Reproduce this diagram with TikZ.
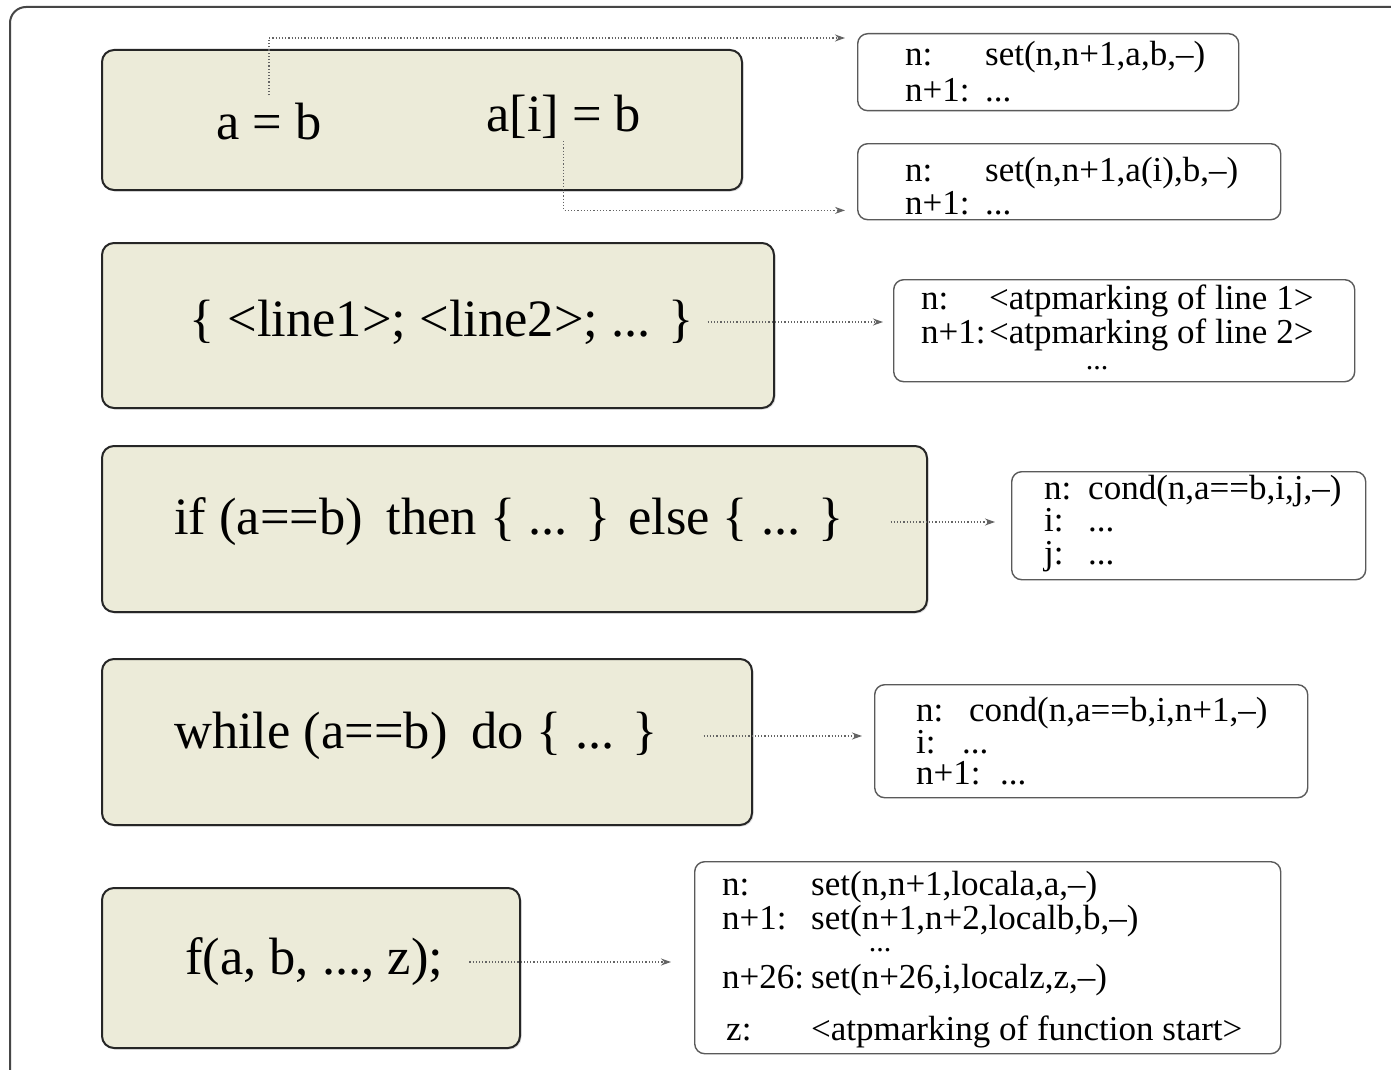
\documentclass[tikz,border=0pt]{standalone}
\usepackage{fontspec}
\setmainfont{Liberation Serif}
\usetikzlibrary{arrows.meta,calc,shadows}
\definecolor{beige}{RGB}{236,235,217}
\definecolor{framecol}{RGB}{70,70,70}
\definecolor{rborder}{RGB}{90,90,90}
\definecolor{dotcol}{RGB}{100,100,100}
\begin{document}
\begin{tikzpicture}[x=1pt,y=-1pt,
  codebox/.style={draw=black!85, line width=2pt, fill=beige, rounded corners=12pt, anchor=north west, inner sep=0pt,
    drop shadow={shadow xshift=1.5pt,shadow yshift=-1.5pt,opacity=0.25}},
  resbox/.style={draw=rborder, line width=1.4pt, fill=white, rounded corners=10pt, anchor=north west, inner sep=0pt},
  codetext/.style={font=\fontsize{52.5}{60}\selectfont, inner sep=0pt, anchor=west},
  restext/.style={font=\fontsize{35}{#1}\selectfont, inner sep=0pt, anchor=west, align=left},
  dotstext/.style={font=\fontsize{30}{30}\selectfont, inner sep=0pt, anchor=center},
  conn/.style={draw=dotcol, line width=1.3pt, dash pattern=on 1.2pt off 2pt, -{Stealth[length=10pt,width=7pt]}}
]
\useasboundingbox (0,0) rectangle (1391,1070);
\fill[white] (0,0) rectangle (1391,1070);
\begin{scope}
  \clip (0,0) rectangle (1391,1070);
  \draw[framecol, line width=2pt, rounded corners=16pt] (10,7) rectangle (1430,1100);
\end{scope}

% code boxes
\node[codebox, minimum width=640pt, minimum height=140pt] (c1) at (101,49) {};
\node[codebox, minimum width=672pt, minimum height=165pt] (c2) at (101,242) {};
\node[codebox, minimum width=825pt, minimum height=166pt] (c3) at (101,445) {};
\node[codebox, minimum width=650pt, minimum height=166pt] (c4) at (101,658) {};
\node[codebox, minimum width=418pt, minimum height=160pt] (c5) at (101,887) {};

% code texts
\node[codetext] (ab) at (216,122) {a = b};
\node[codetext] (aib) at (486,117) {a[i] = b};
\node[codetext] (t2) at (189,322) {\{ <line1>; <line2>; ... \}};
\node[codetext] (t3) at (174,522) {if (a==b)\hspace{0.45em}then \{ ... \} else \{ ... \}};
\node[codetext] (t4) at (174,736) {while (a==b)\hspace{0.45em}do \{ ... \}};
\node[codetext] (t5) at (185,962) {f(a, b, ..., z);};

% result boxes
\node[resbox, minimum width=381pt, minimum height=77pt] (r1) at (857,33) {};
\node[resbox, minimum width=423pt, minimum height=76pt] (r2) at (857,143) {};
\node[resbox, minimum width=461pt, minimum height=102pt] (r3) at (893,279) {};
\node[resbox, minimum width=354pt, minimum height=108pt] (r4) at (1011,471) {};
\node[resbox, minimum width=433pt, minimum height=113pt] (r5) at (874,684) {};
\node[resbox, minimum width=586pt, minimum height=192pt] (r6) at (694,861) {};

% result texts
\node[restext=36] (r1t) at (905,72) {\makebox[80pt][l]{n:}set(n,n+1,a,b,--)\\\makebox[80pt][l]{n+1:}...};
\node[restext=33] (r2t) at (905,186) {\makebox[80pt][l]{n:}set(n,n+1,a(i),b,--)\\\makebox[80pt][l]{n+1:}...};
\node[restext=32] (r3t) at (921,318) {\makebox[68pt][l]{n:}<atpmarking of line 1>\\\makebox[68pt][l]{n+1:}<atpmarking of line 2>};
\node[dotstext] (r3d) at (1097,368) {...};
\node[restext=32.5] (r4t) at (1044,523.5) {\makebox[44pt][l]{n:}cond(n,a==b,i,j,--)\\\makebox[44pt][l]{i:}...\\\makebox[44pt][l]{j:}...};
\node[restext=31.5] (r5t) at (916,741.5) {\makebox[53pt][l]{n:}cond(n,a==b,i,n+1,--)\\\makebox[46pt][l]{i:}...\\\makebox[84pt][l]{n+1:}...};
\node[restext=35] (r6a) at (722,887) {\makebox[89pt][l]{n:}set(n,n+1,locala,a,--)};
\node[restext=35] (r6b) at (722,921) {\makebox[89pt][l]{n+1:}set(n+1,n+2,localb,b,--)};
\node[dotstext] (r6d) at (880,950) {...};
\node[restext=35] (r6c) at (722,980) {\makebox[89pt][l]{n+26:}set(n+26,i,localz,z,--)};
\node[restext=35] (r6e) at (726,1032) {\makebox[85pt][l]{z:}<atpmarking of function start>};

% connectors
\draw[conn, shorten <=8pt, shorten >=12pt] (ab.north) |- ($(r1.north west)+(0,5)$);
\draw[conn, shorten <=2pt, shorten >=12pt] (aib.south) |- ($(r2.south west)+(0,-10)$);
\draw[conn, shorten <=14pt, shorten >=10pt] (t2.east) -- (t2.east -| r3.west);
\draw[conn, shorten <=47pt, shorten >=16pt] (t3.east) -- (t3.east -| r4.west);
\draw[conn, shorten <=46pt, shorten >=12pt] (t4.east) -- (t4.east -| r5.west);
\draw[conn, shorten <=26pt, shorten >=23pt] (t5.east) -- (t5.east -| r6.west);
\end{tikzpicture}
\end{document}
